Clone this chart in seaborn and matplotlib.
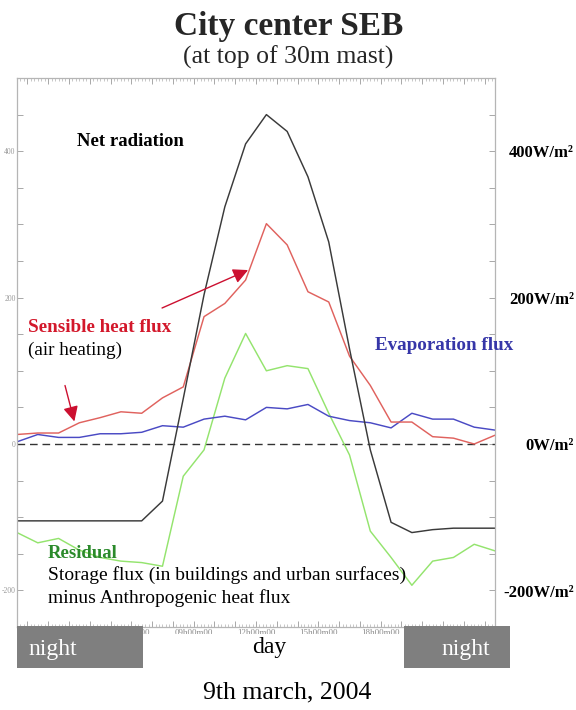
import matplotlib
matplotlib.use("Agg")
import numpy as np
import pandas as pd
import seaborn as sns
import matplotlib.pyplot as plt
from matplotlib.patches import Rectangle
from matplotlib.ticker import MultipleLocator, FixedLocator, FuncFormatter
from matplotlib.transforms import blended_transform_factory

# ---------------- data (hourly means, W/m2) ----------------
hours = [0.5, 1.5, 2.5, 3.5, 4.5, 5.5, 6.5, 7.5, 8.5, 9.5, 10.5, 11.5,
         12.5, 13.5, 14.5, 15.5, 16.5, 17.5, 18.5, 19.5, 20.5, 21.5, 22.5, 23.5]
net_radiation = [-105, -105, -105, -105, -105, -105, -105, -78, 62, 204, 324, 410,
                 450, 427, 365, 276, 130, -8, -107, -121, -117, -115, -115, -115]
sensible_heat = [13, 15, 15, 29, 36, 44, 42, 63, 78, 174, 192, 224,
                 301, 272, 208, 194, 120, 80, 30, 30, 10, 8, 0, 12]
evaporation = [3, 13, 9, 9, 14, 14, 16, 25, 23, 34, 38, 33,
               50, 48, 54, 38, 32, 29, 22, 42, 34, 34, 23, 19]
residual = [-121, -135, -129, -145, -155, -160, -162, -167, -44, -8, 90, 151,
            100, 107, 103, 42, -15, -119, -155, -193, -160, -155, -137, -146]

series_names = ["Net radiation", "Sensible heat flux", "Evaporation flux", "Residual"]
y_ticks = [-200, 0, 200, 400]
y_tick_labels = ["-200", "0", "200", "400"]
right_labels = ["-200W/m²", "0W/m²", "200W/m²", "400W/m²"]
x_tick_hours = [6, 9, 12, 15, 18]
x_tick_labels = ["06h00m00", "09h00m00", "12h00m00", "15h00m00", "18h00m00"]

rows = []
for name, vals in zip(series_names, [net_radiation, sensible_heat, evaporation, residual]):
    for h, v in zip(hours, vals):
        rows.append({"hour": h, "value": v, "series": name})
df = pd.DataFrame(rows)

# ---------------- style ----------------
sns.set_style("white")
plt.rcParams["font.family"] = ["Liberation Serif", "DejaVu Serif"]

W, H = 576, 710
fig = plt.figure(figsize=(W / 100, H / 100), dpi=100)
fig.patch.set_facecolor("white")

def fx(x):
    return x / W

def fy(y):
    return 1 - y / H

ax = fig.add_axes([fx(17), fy(627), 478 / W, 549 / H])

palette = {"Net radiation": "#3a3a3a", "Sensible heat flux": "#e0625e",
           "Evaporation flux": "#4a4ac4", "Residual": "#94e46e"}
sns.lineplot(data=df, x="hour", y="value", hue="series", palette=palette,
             hue_order=["Residual", "Evaporation flux", "Sensible heat flux", "Net radiation"],
             estimator=None, legend=False, linewidth=1.05, ax=ax)
ax.axhline(0, color="#333333", lw=1.0, dashes=(5.5, 3.5), zorder=1)

ax.set_xlim(0.5, 23.5)
ax.set_ylim(-250, 500)
ax.set_xlabel("")
ax.set_ylabel("")

for s in ax.spines.values():
    s.set_color("#b5b5b5")
    s.set_linewidth(0.9)

# y ticks every 50, labels at 200s
ax.yaxis.set_major_locator(MultipleLocator(50))
ylab_map = dict(zip(y_ticks, y_tick_labels))
ax.yaxis.set_major_formatter(FuncFormatter(lambda v, p: ylab_map.get(int(round(v)), "")))
ax.tick_params(axis="y", which="major", direction="in", left=True, right=True,
               length=4.5, width=0.7, color="#a8a8a8", labelsize=5.5,
               labelcolor="#999999", pad=1.0)

# x ruler ticks
ax.xaxis.set_major_locator(FixedLocator(list(range(1, 24))))
ax.xaxis.set_minor_locator(MultipleLocator(1 / 6))
xlab_map = dict(zip(x_tick_hours, x_tick_labels))
ax.xaxis.set_major_formatter(FuncFormatter(lambda v, p: xlab_map.get(int(round(v)), "")))
ax.tick_params(axis="x", which="major", direction="in", top=True, bottom=True,
               length=4.5, width=0.7, color="#a8a8a8", labelsize=6.5,
               labelcolor="#8c8c8c", pad=1.2)
ax.tick_params(axis="x", which="minor", direction="in", top=True, bottom=True,
               length=2.5, width=0.5, color="#b0b0b0")

# ---------------- annotations inside the plot ----------------
def ftext(x, y, s, **kw):
    fig.text(fx(x), fy(y), s, **kw)

ftext(77, 142, "Net radiation", fontsize=13.5, fontweight="bold", color="black",
      ha="left", va="center")
ftext(28, 327, "Sensible heat flux", fontsize=13.8, fontweight="bold", color="#d3182b",
      ha="left", va="center")
ftext(28, 350, "(air heating)", fontsize=13.8, color="black", ha="left", va="center")
ftext(375, 345, "Evaporation flux", fontsize=13.7, fontweight="bold", color="#3636a8",
      ha="left", va="center")
ftext(48, 553, "Residual", fontsize=13.5, fontweight="bold", color="#2b8a2b",
      ha="left", va="center")
ftext(48, 575, "Storage flux (in buildings and urban surfaces)", fontsize=14,
      color="black", ha="left", va="center")
ftext(48, 598, "minus Anthropogenic heat flux", fontsize=14, color="black",
      ha="left", va="center")

arrow_kw = dict(arrowstyle="-|>,head_length=0.9,head_width=0.45", color="#cc1030",
                lw=1.0, shrinkA=0, shrinkB=0)
ax.annotate("", xy=(11.62, 237.6), xytext=(7.48, 185.8), arrowprops=arrow_kw)
ax.annotate("", xy=(3.26, 30.8), xytext=(2.81, 79.9), arrowprops=arrow_kw)

# right side unit labels
btr = blended_transform_factory(fig.transFigure, ax.transData)
for v, lab in zip(y_ticks, right_labels):
    ax.text(fx(574), v - 3, lab, transform=btr, ha="right", va="center",
            fontsize=12, fontweight="bold", color="black", clip_on=False)

# ---------------- titles ----------------
ftext(289, 26, "City center SEB", fontsize=24, fontweight="bold", ha="center", va="center")
ftext(288, 57, "(at top of 30m mast)", fontsize=18.5, ha="center", va="center")

# ---------------- day / night band ----------------
fig.add_artist(Rectangle((fx(143), fy(668)), (404 - 143) / W, (668 - 634) / H,
                         transform=fig.transFigure, facecolor="white", edgecolor="none",
                         zorder=5))
for x0, x1 in [(17, 143), (404, 510)]:
    fig.add_artist(Rectangle((fx(x0), fy(668)), (x1 - x0) / W, (668 - 626) / H,
                             transform=fig.transFigure, facecolor="#7f7f7f",
                             edgecolor="none", zorder=5))
ftext(53, 650, "night", fontsize=17, color="white", ha="center", va="center", zorder=6)
ftext(466, 650, "night", fontsize=17, color="white", ha="center", va="center", zorder=6)
ftext(269, 648, "day", fontsize=17, color="black", ha="center", va="center", zorder=6)
ftext(287, 692, "9th march, 2004", fontsize=18.5, color="black", ha="center", va="center")

fig.savefig("out.png", dpi=100, facecolor="white")
